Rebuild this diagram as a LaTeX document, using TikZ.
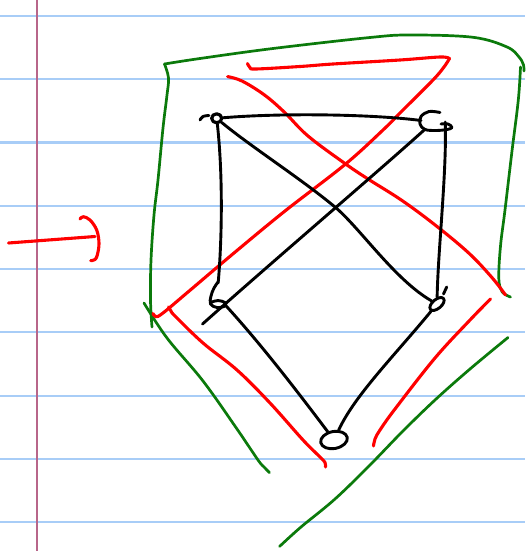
\documentclass[tikz,border=0pt]{standalone}
\usetikzlibrary{shapes.geometric}
\definecolor{rulecol}{HTML}{A8CDF7}
\definecolor{margincol}{HTML}{B8668A}
\definecolor{penred}{HTML}{FF0000}
\definecolor{pengreen}{HTML}{0B7A0B}
\begin{document}
\begin{tikzpicture}[x=1pt,y=-1pt,
  blackink/.style={line width=2.9pt, line cap=round, line join=round, black},
  redink/.style={line width=3.1pt, line cap=round, line join=round, penred},
  greenink/.style={line width=2.7pt, line cap=round, line join=round, pengreen},
  vert/.style={ellipse, draw, blackink, inner sep=0pt},
  ghost/.style={ellipse, inner sep=0pt}]
\useasboundingbox (0,0) rectangle (525,551);
\fill[white] (0,0) rectangle (525,551);
% ruled paper
\foreach \yy in {15.8,79.1,142.4,205.7,269,332.3,395.6,458.9,522.2}
  \draw[rulecol, line width=2.2pt] (0,\yy) -- (525,\yy);
\draw[margincol, line width=1.7pt] (36.7,0) -- (36.7,551);

% green strokes
\draw[greenink] plot[smooth, tension=0.6] coordinates {(152,327) (150.5,300) (151,260) (154,215) (158,180) (163,128) (167,95) (168.5,78) (164.5,64)};
\draw[greenink] plot[smooth, tension=0.6] coordinates {(164.5,64) (200,58.5) (273,48.5) (370,37.5) (410,35) (473,37.3) (507,47) (519,57) (523.5,65) (524,71)};
\draw[greenink] plot[smooth, tension=0.6] coordinates {(520.5,67) (518.3,100) (512,151) (505,210) (500.5,246) (498.8,278) (502,291.6) (510.5,297)};
\draw[greenink] plot[smooth, tension=0.6] coordinates {(144,303) (167,338) (203,381) (237,429) (258,460) (264,467) (269.5,472.6)};
\draw[greenink] plot[smooth, tension=0.6] coordinates {(508,337.5) (470,369) (435,400) (402,432) (370,465) (335,499) (301,527) (279.5,546.5)};

% red strokes
\draw[redink] (8.5,243) -- (95,236.5);
\draw[redink] plot[smooth, tension=0.6] coordinates {(80,219) (83.3,216.7) (90,220) (96.7,230) (99,243.3) (97.3,255) (95,259.5) (90.7,260.7)};
\draw[redink] plot[smooth, tension=0.6] coordinates {(247.5,63.5) (250,67.5) (256,69) (300,66.5) (333,64) (400,60) (440,57) (449.5,58.5)};
\draw[redink] plot[smooth, tension=0.6] coordinates {(449.5,58.5) (444,67) (433,80) (402,111) (383,130) (345,164.5) (285,211) (234,253) (188,292) (163,313) (156,316.7) (153,313.5)};
\draw[redink] plot[smooth, tension=0.6] coordinates {(227.6,76.6) (242,81) (264.5,95) (284.6,112.4) (308,136) (344.8,163.4) (368,179) (401.7,200.3) (435,224.9) (468.7,253) (492,277.6) (505.5,295)};
\draw[redink] plot[smooth, tension=0.6] coordinates {(168.5,307) (171,311) (175,316) (203,343) (237,370) (270,403) (303,440) (320,457) (325,462.5) (325.5,467)};
\draw[redink] plot[smooth, tension=0.6] coordinates {(490.5,299) (470,320) (435,358) (395,409) (380,430) (375,439) (373.5,446)};

% black graph
\node[vert, minimum width=10pt, minimum height=9pt, line width=3.2pt] (tl) at (216.7,118.3) {};
\node[ghost, minimum width=24pt, minimum height=18pt] (tr) at (433,122) {};
\node[ghost, minimum width=18pt, minimum height=26pt] (bl) at (217,296) {};
\node[vert, minimum width=17pt, minimum height=9pt, rotate=40] (br) at (437,304) {};
\node[vert, minimum width=27pt, minimum height=17pt, rotate=11] (b) at (334,440) {};
\coordinate (blend) at (202.5,324);

\draw[blackink] plot[smooth, tension=0.6] coordinates {(200,120) (203,116.5) (209,115.5)};
\draw[blackink] plot[smooth, tension=0.6] coordinates {(440,112.5) (429,111.5) (421,116.5) (420,124) (425,129.5) (436,130.5) (447,129.5) (452,127.5) (448,124) (441,124)};
\draw[blackink] plot[smooth, tension=0.6] coordinates {(218,282) (214,288) (211,296) (210.5,304) (217,307.5) (225,306) (225,302.5) (218,300.5) (212,302)};
\draw[blackink] (446.7,287) -- (443.5,294);

\draw[blackink] (tl) .. controls (280,113) and (370,114) .. (tr);
\draw[blackink] (tl) .. controls (223,175) and (222,240) .. (bl);
\draw[blackink] (tr.east) .. controls (447,170) and (438,250) .. (br);
\draw[blackink] (tl) .. controls (250,146) and (300,178) .. (335,207) .. controls (360,228) and (395,280) .. (br);
\draw[blackink] (tr) .. controls (380,170) and (280,255) .. (blend);
\draw[blackink] (bl) .. controls (262,345) and (300,395) .. (b);
\draw[blackink] (br) .. controls (395,355) and (355,395) .. (b);
\end{tikzpicture}
\end{document}
